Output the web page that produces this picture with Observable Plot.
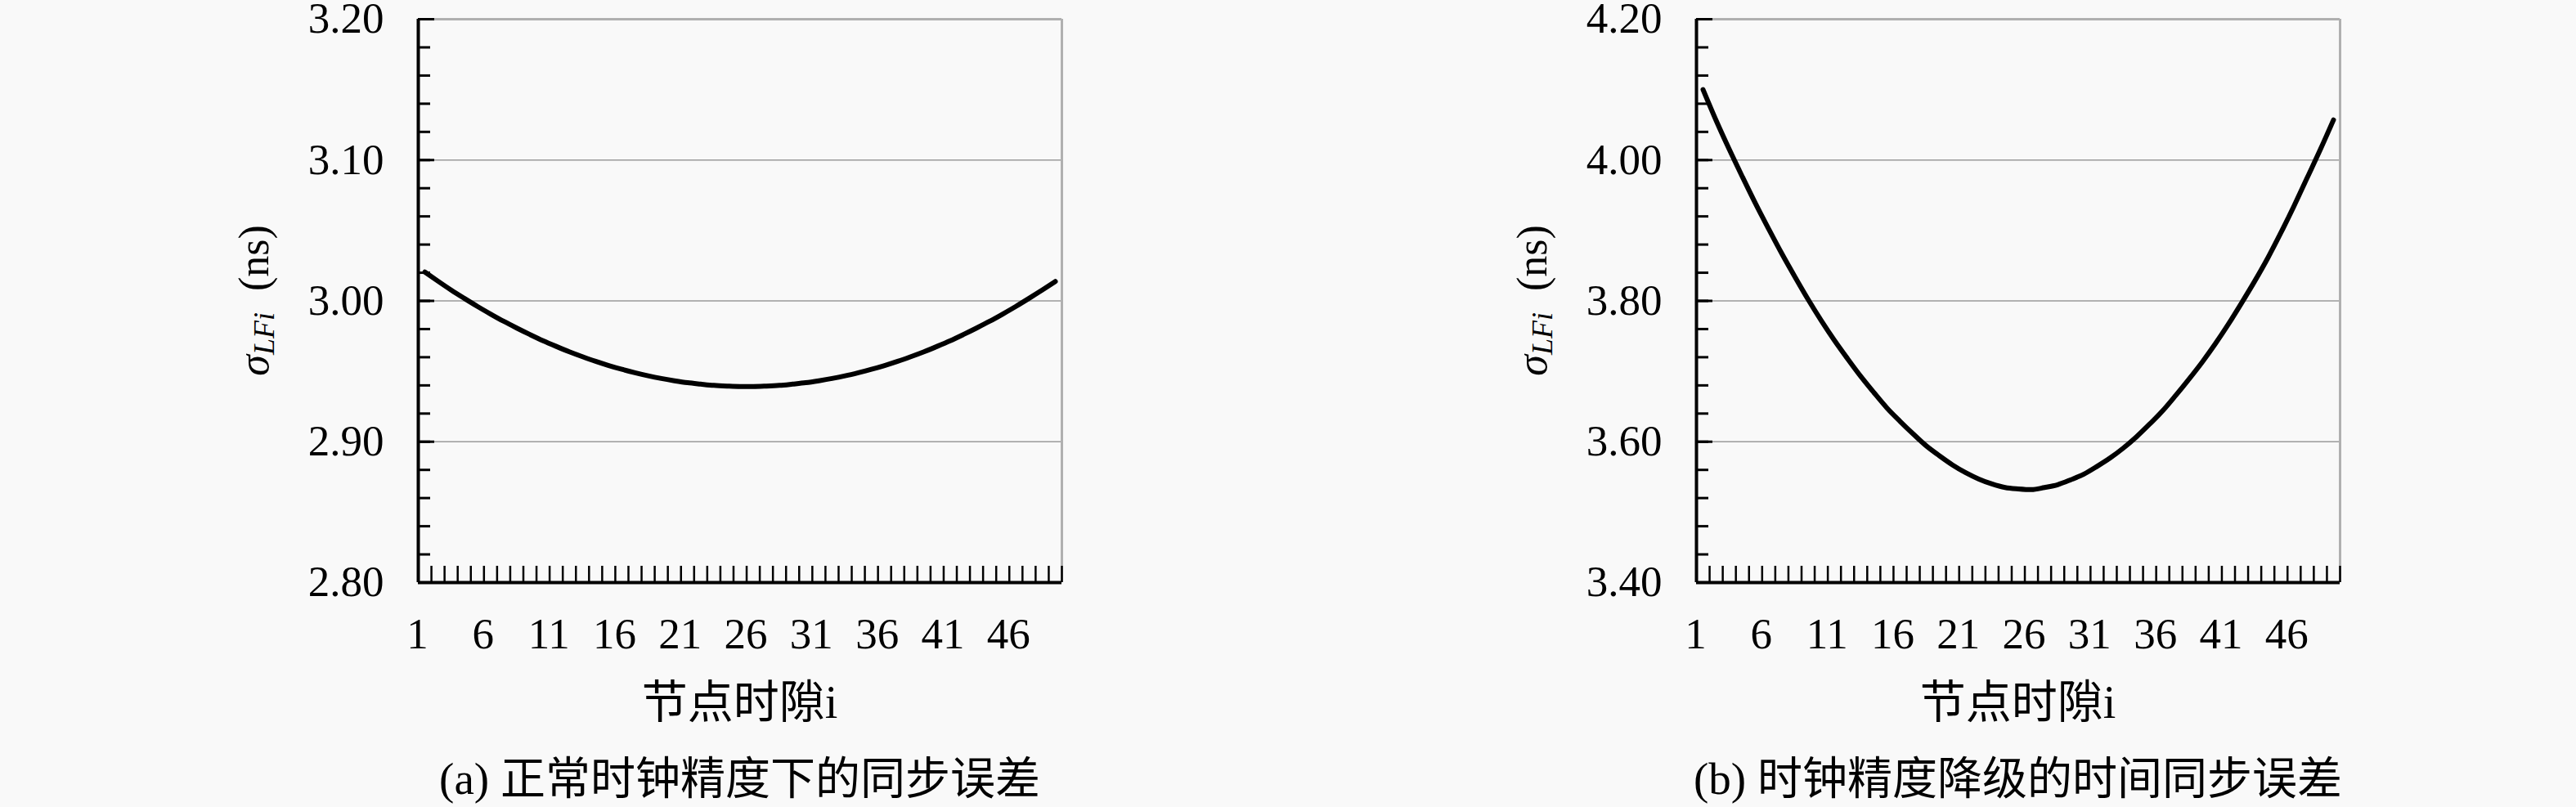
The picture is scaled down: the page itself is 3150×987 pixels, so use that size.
<!DOCTYPE html>
<html>
<head>
<meta charset="utf-8">
<script src="https://cdn.jsdelivr.net/npm/d3@7"></script>
<script src="https://cdn.jsdelivr.net/npm/@observablehq/plot@0.6"></script>
<style>
  html, body { margin: 0; padding: 0; background: #f9f9f9; }
  #page { position: relative; width: 3150px; height: 987px; overflow: hidden; background: #f9f9f9; }
  .panel { position: absolute; top: 0; }
  .xlabel, .caption {
    position: absolute; white-space: nowrap; text-align: center; color: #000;
    font-family: 'Liberation Serif', 'Noto Sans CJK SC', serif; line-height: 1;
    transform: translateX(-50%);
  }
  .xlabel { font-size: 56px; top: 831px; }
  .caption { font-size: 55px; top: 925px; }
</style>
</head>
<body>
<div id="page"></div>
<script>
// ---- data ----
const slots = [1,2,3,4,5,6,7,8,9,10,11,12,13,14,15,16,17,18,19,20,21,22,23,24,25,26,27,28,29,30,31,32,33,34,35,36,37,38,39,40,41,42,43,44,45,46,47,48,49];
const xTickLabels = [1,6,11,16,21,26,31,36,41,46];

const sigmaNormal = [3.0205,3.0140,3.0077,3.0018,2.9961,2.9907,2.9855,2.9807,2.9761,2.9717,
  2.9677,2.9639,2.9604,2.9571,2.9541,2.9514,2.9490,2.9468,2.9449,2.9433,
  2.9419,2.9409,2.9400,2.9395,2.9392,2.9392,2.9395,2.9400,2.9409,2.9419,
  2.9433,2.9449,2.9468,2.9490,2.9514,2.9541,2.9571,2.9604,2.9639,2.9677,
  2.9717,2.9761,2.9807,2.9855,2.9907,2.9961,3.0018,3.0077,3.0138];

const sigmaDegraded = [4.100,4.056,4.015,3.976,3.938,3.902,3.867,3.834,3.802,3.772,
  3.744,3.718,3.693,3.670,3.648,3.629,3.611,3.594,3.580,3.567,
  3.556,3.547,3.540,3.535,3.533,3.532,3.535,3.539,3.546,3.554,
  3.565,3.577,3.591,3.607,3.625,3.644,3.666,3.689,3.713,3.739,
  3.767,3.797,3.828,3.861,3.897,3.935,3.975,4.015,4.057];

const yMajorA = [2.80, 2.90, 3.00, 3.10, 3.20];
const yMinorA = [2.80,2.82,2.84,2.86,2.88,2.90,2.92,2.94,2.96,2.98,3.00,3.02,3.04,3.06,3.08,3.10,3.12,3.14,3.16,3.18,3.20];
const yMajorB = [3.40, 3.60, 3.80, 4.00, 4.20];
const yMinorB = [3.40,3.44,3.48,3.52,3.56,3.60,3.64,3.68,3.72,3.76,3.80,3.84,3.88,3.92,3.96,4.00,4.04,4.08,4.12,4.16,4.20];

const xLabel = "节点时隙i";
const captionA = "(a) 正常时钟精度下的同步误差";
const captionB = "(b) 时钟精度降级的时间同步误差";

// ---- layout ----
const ML = 261, MR = 40, MT = 23, MB = 100;
const IW = 787, IH = 689;
const W = ML + IW + MR, H = MT + IH + MB;

function panel(values, majors, minors, leftPx, caption) {
  const data = slots.map((s, k) => ({i: s, v: values[k]}));
  const bounds = slots.map(s => s + 0.5);
  const xDomain = [slots[0] - 0.5, slots[slots.length - 1] + 0.5];
  const yDomain = [majors[0], majors[majors.length - 1]];
  const svg = Plot.plot({
    width: W, height: H,
    marginLeft: ML, marginRight: MR, marginTop: MT, marginBottom: MB,
    style: {background: "transparent", fontFamily: "'Liberation Serif', serif", fontSize: "53px", color: "#000", overflow: "visible"},
    x: {domain: xDomain},
    y: {domain: yDomain},
    marks: [
      Plot.ruleY(majors.slice(1, -1), {stroke: "#9a9a9a", strokeWidth: 1.6}),
      Plot.ruleY([yDomain[1]], {stroke: "#b0b0b0", strokeWidth: 3}),
      Plot.ruleX([xDomain[1]], {stroke: "#b0b0b0", strokeWidth: 3}),
      Plot.tickX(bounds, {x: d => d, stroke: "#000", strokeWidth: 2.5, insetTop: IH - 20}),
      Plot.tickY(minors, {y: d => d, stroke: "#000", strokeWidth: 3, insetRight: IW - 15}),
      Plot.tickY(majors, {y: d => d, stroke: "#000", strokeWidth: 3, insetRight: IW - 20}),
      Plot.line(data, {x: "i", y: "v", stroke: "#000", strokeWidth: 6, curve: "monotone-x", strokeLinecap: "round", strokeLinejoin: "round"}),
      Plot.ruleY([yDomain[0]], {stroke: "#000", strokeWidth: 4}),
      Plot.ruleX([xDomain[0]], {stroke: "#000", strokeWidth: 4}),
      Plot.axisX({ticks: xTickLabels, tickSize: 0, tickPadding: 43, dx: -9, label: null, fontSize: 53, tickFormat: d => String(d)}),
      Plot.axisY({ticks: majors, tickSize: 0, tickPadding: 42, label: null, fontSize: 53, tickFormat: d => d.toFixed(2)})
    ]
  });
  // y-axis label: σ_LFi (ns)
  const t = d3.select(svg).append("text")
    .attr("transform", `translate(${ML - 183},${MT + IH / 2}) rotate(-90)`)
    .attr("text-anchor", "middle")
    .attr("font-family", "'Liberation Serif', serif")
    .attr("font-size", 52)
    .attr("fill", "#000");
  t.append("tspan").attr("font-style", "italic").text("σ");
  t.append("tspan").attr("font-style", "italic").attr("font-size", 36).attr("dy", 7).text("LFi");
  t.append("tspan").attr("dy", -7).text("\u2002(ns)");

  const wrap = document.createElement("div");
  wrap.className = "panel";
  wrap.style.left = (leftPx - ML) + "px";
  wrap.appendChild(svg);
  const page = document.getElementById("page");
  page.appendChild(wrap);

  const cx = leftPx + IW / 2;
  const xl = document.createElement("div");
  xl.className = "xlabel"; xl.style.left = cx + "px"; xl.textContent = xLabel;
  page.appendChild(xl);
  const cap = document.createElement("div");
  cap.className = "caption"; cap.style.left = cx + "px"; cap.textContent = caption;
  page.appendChild(cap);
}

panel(sigmaNormal, yMajorA, yMinorA, 511, captionA);
panel(sigmaDegraded, yMajorB, yMinorB, 2074, captionB);
</script>
</body>
</html>
